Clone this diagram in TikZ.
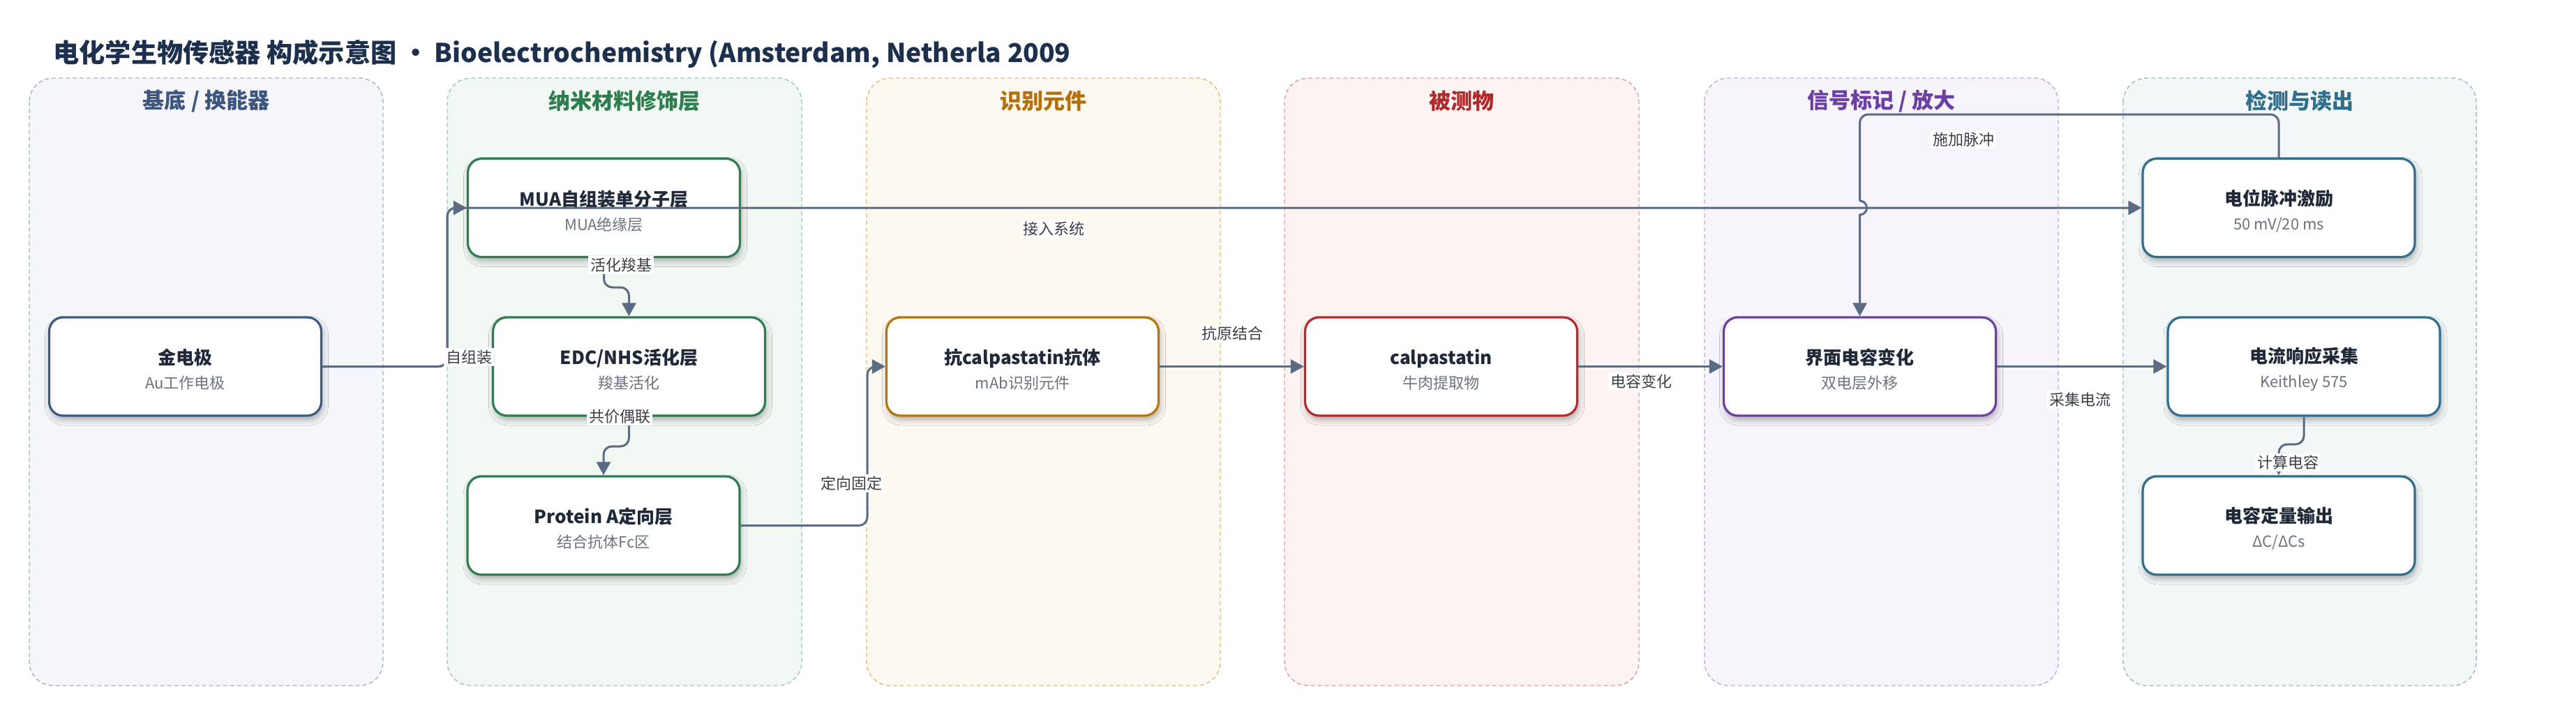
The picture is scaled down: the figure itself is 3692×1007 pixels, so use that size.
\documentclass[tikz,border=0pt]{standalone}
\usepackage{fontspec}
\setmainfont{Noto Sans CJK SC}
\usetikzlibrary{arrows.meta,shadows.blur}

\definecolor{edgec}{HTML}{5B6B82}
\definecolor{titc}{HTML}{1C2F4C}
\definecolor{boxtxt}{HTML}{1F2937}
\definecolor{subc}{HTML}{6B7280}
\definecolor{labc}{HTML}{3A3F47}
% lanes
\definecolor{fA}{HTML}{F5F6FA}\definecolor{bA}{HTML}{A3B2C8}\definecolor{tA}{HTML}{3D5680}
\definecolor{fB}{HTML}{F1F8F3}\definecolor{bB}{HTML}{9DC8AA}\definecolor{tB}{HTML}{2E7D4F}
\definecolor{fC}{HTML}{FEF9F0}\definecolor{bC}{HTML}{E2BA7C}\definecolor{tC}{HTML}{B36F0C}
\definecolor{fD}{HTML}{FDF3F3}\definecolor{bD}{HTML}{E29C9C}\definecolor{tD}{HTML}{B02A2A}
\definecolor{fE}{HTML}{F7F3FB}\definecolor{bE}{HTML}{C6A6DC}\definecolor{tE}{HTML}{6C3FA3}
\definecolor{fF}{HTML}{F3F7F8}\definecolor{bF}{HTML}{9CBAC8}\definecolor{tF}{HTML}{2F6E8C}
% box borders
\definecolor{kA}{HTML}{3D5A80}
\definecolor{kB}{HTML}{2E7D4F}
\definecolor{kC}{HTML}{B8730A}
\definecolor{kD}{HTML}{B52A2A}
\definecolor{kE}{HTML}{6D3FA0}
\definecolor{kF}{HTML}{2F6E8C}

\newcommand{\bx}[2]{{\rule{0pt}{15.5pt}\bfseries\fontsize{13}{13}\selectfont #1}\\[4.5pt]{\color{subc}#2}}

\begin{document}
\begin{tikzpicture}[x=0.5pt,y=-0.5pt,
  lanebox/.style={draw=#1, dash pattern=on 3pt off 2pt, line width=0.7pt, rounded corners=17pt},
  lanetitle/.style={font=\bfseries\fontsize{15.5}{18}\selectfont, text=#1, inner sep=0pt},
  box/.style={draw=#1, line width=1.6pt, fill=white, rounded corners=10pt,
    minimum width=195pt, minimum height=70.5pt, align=center, text=boxtxt,
    font=\fontsize{11}{13}\selectfont,
    blur shadow={shadow xshift=1pt, shadow yshift=-3pt, shadow blur steps=6, shadow opacity=30, shadow blur radius=4pt}},
  flow/.style={draw=edgec, line width=1.5pt, rounded corners=6pt, -{Triangle[length=9.5pt,width=10pt]}},
  flowline/.style={draw=edgec, line width=1.5pt, rounded corners=6pt},
  elabel/.style={fill=white, inner sep=1.5pt, font=\fontsize{11}{13}\selectfont, text=labc}]

\useasboundingbox (0,0) rectangle (3692,1007);
\fill[white] (0,0) rectangle (3692,1007);

% title
\node[anchor=west, inner sep=0pt, font=\bfseries\fontsize{18.6}{22}\selectfont, text=titc] (title) at (76,77)
  {电化学生物传感器 构成示意图 • Bioelectrochemistry (Amsterdam, Netherla 2009};

% lanes
\draw[lanebox=bA, fill=fA] (42,112) rectangle (549,983);
\draw[lanebox=bB, fill=fB] (641,112) rectangle (1149,983);
\draw[lanebox=bC, fill=fC] (1242,112) rectangle (1749,983);
\draw[lanebox=bD, fill=fD] (1841,112) rectangle (2349,983);
\draw[lanebox=bE, fill=fE] (2443,112) rectangle (2950,983);
\draw[lanebox=bF, fill=fF] (3043,112) rectangle (3549,983);

\node[lanetitle=tA] (tl1) at (295.5,145) {基底 / 换能器};
\node[lanetitle=tB] (tl2) at (895,145) {纳米材料修饰层};
\node[lanetitle=tC] (tl3) at (1495.5,145) {识别元件};
\node[lanetitle=tD] (tl4) at (2095,145) {被测物};
\node[lanetitle=tE] (tl5) at (2696.5,145) {信号标记 / 放大};
\node[lanetitle=tF] (tl6) at (3296,145) {检测与读出};

% nodes
\node[box=kA] (gold) at (265.5,525.5) {\bx{金电极}{Au工作电极}};
\node[box=kB] (mua) at (865.5,298) {\bx{MUA自组装单分子层}{MUA绝缘层}};
\node[box=kB] (edc) at (901.5,525.5) {\bx{EDC/NHS活化层}{羧基活化}};
\node[box=kB] (pra) at (865,753.5) {\bx{Protein A定向层}{结合抗体Fc区}};
\node[box=kC] (ab) at (1465.5,525.5) {\bx{抗calpastatin抗体}{mAb识别元件}};
\node[box=kD] (cal) at (2065.5,525.5) {\bx{calpastatin}{牛肉提取物}};
\node[box=kE] (iface) at (2665.5,525.5) {\bx{界面电容变化}{双电层外移}};
\node[box=kF] (pulse) at (3266,298) {\bx{电位脉冲激励}{50 mV/20 ms}};
\node[box=kF] (cur) at (3302,525.5) {\bx{电流响应采集}{Keithley 575}};
\node[box=kF] (cap) at (3266,753.5) {\bx{电容定量输出}{ΔC/ΔCs}};

% connectors
\draw[flow] (gold.east) -- (641,525.5) -- (641,298) -- (mua.west);
\draw[flow] (gold.east) -- (641,525.5) -- (641,298) -- (pulse.west);
\draw[flow] (mua.south) -- (865.5,412) -- (901.5,412) -- (edc.north);
\draw[flow] (edc.south) -- (901.5,640) -- (865,640) -- (pra.north);
\draw[flow] (pra.east) -- (1243,753.5) -- (1243,525.5) -- (ab.west);
\draw[flow] (ab.east) -- (cal.west);
\draw[flow] (cal.east) -- (iface.west);
\draw[flow] (iface.east) -- (cur.west);
\draw[flowline] (pulse.north) -- (3266,164) -- (2665.5,164) -- (2665.5,288);
\draw[flow, sharp corners] (2665.5,288) arc[start angle=-90, end angle=90, radius=10] -- (iface.north);
\draw[flow] (cur.south) -- (3302,637) -- (3266,637) -- (cap.north);

% connector labels
\node[elabel] (l1) at (672,512) {自组装};
\node[elabel] (l2) at (1510,328) {接入系统};
\node[elabel] (l3) at (890,380) {活化羧基};
\node[elabel] (l4) at (888,597) {共价偶联};
\node[elabel] (l5) at (1220,693) {定向固定};
\node[elabel] (l6) at (1766,478) {抗原结合};
\node[elabel] (l7) at (2352,547) {电容变化};
\node[elabel] (l8) at (2981,573) {采集电流};
\node[elabel] (l9) at (2814,200) {施加脉冲};
\node[elabel] (l10) at (3279,663) {计算电容};
\end{tikzpicture}
\end{document}
